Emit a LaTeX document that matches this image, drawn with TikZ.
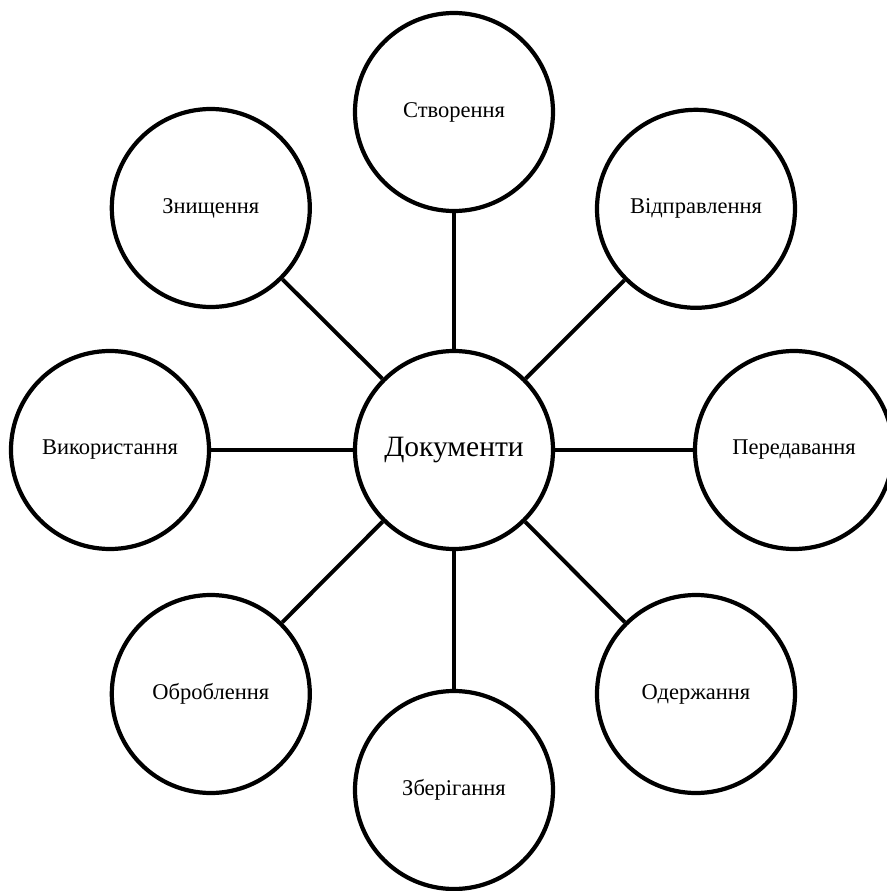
\documentclass[tikz,border=0pt]{standalone}
\usepackage{fontspec}
\setmainfont{Liberation Serif}

\begin{document}
\begin{tikzpicture}[
    stagebox/.style={draw=black, line width=3pt, circle, minimum size=4.95cm,
                 inner sep=0pt, fill=white, font=\fontsize{16}{19}\selectfont},
    docbox/.style={stagebox, font=\fontsize{21}{25}\selectfont}
]
    \useasboundingbox (-11.35,-11.025) rectangle (10.825,11.25);

    \node[docbox] (doc) at (0,0) {Документи};

    \node[stagebox] (s1) at (0,8.45) {Створення};
    \node[stagebox] (s2) at (6.05,6.03) {Відправлення};
    \node[stagebox] (s3) at (8.5,0) {Передавання};
    \node[stagebox] (s4) at (6.05,-6.1) {Одержання};
    \node[stagebox] (s5) at (0,-8.5) {Зберігання};
    \node[stagebox] (s6) at (-6.08,-6.1) {Оброблення};
    \node[stagebox] (s7) at (-8.6,0) {Використання};
    \node[stagebox] (s8) at (-6.08,6.05) {Знищення};

    % Lines
    \draw[line width=2.8pt] (doc) -- (s1);
    \draw[line width=2.8pt] (doc) -- (s2);
    \draw[line width=2.8pt] (doc) -- (s3);
    \draw[line width=2.8pt] (doc) -- (s4);
    \draw[line width=2.8pt] (doc) -- (s5);
    \draw[line width=2.8pt] (doc) -- (s6);
    \draw[line width=2.8pt] (doc) -- (s7);
    \draw[line width=2.8pt] (doc) -- (s8);
\end{tikzpicture}
\end{document}
